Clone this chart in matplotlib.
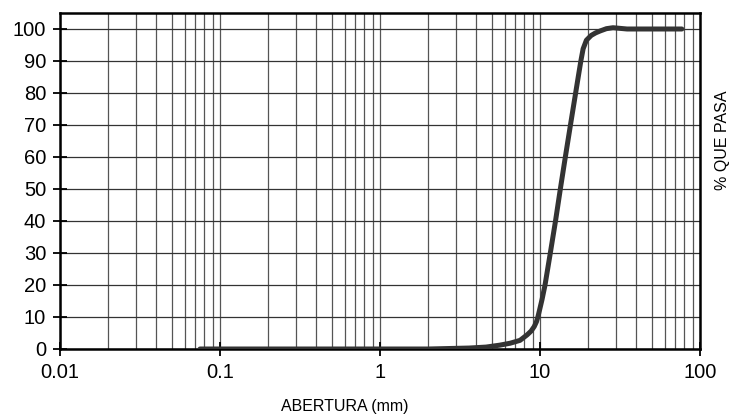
import numpy as np
import matplotlib
matplotlib.use("Agg")
import matplotlib.pyplot as plt
from matplotlib.ticker import LogLocator, NullFormatter, FixedLocator

# ===== Data =====
ABERTURA_MM = [0.075, 0.3, 1.0, 2.0, 3.6, 4.6, 5.6, 6.5, 7.5, 8.3, 8.8, 9.2,
               9.5, 9.7, 9.95, 10.3, 10.75, 11.6, 12.5, 13.4, 14.4, 15.5,
               16.7, 17.4, 18.0, 18.6, 19.5, 20.9, 22.3, 23.8, 26.0, 28.6,
               35.0, 50.0, 77.0]
PCT_PASA = [0, 0, 0, 0, 0.3, 0.6, 1.2, 1.8, 2.7, 4.4, 5.6, 7.0,
            8.5, 10.0, 12.3, 15.5, 20.0, 30.0, 40.0, 50.0, 60.0, 70.0,
            80.0, 85.5, 90.0, 93.8, 96.5, 98.0, 98.8, 99.4, 100.1, 100.4,
            100.0, 100.0, 100.0]
X_TICKS = [0.01, 0.1, 1, 10, 100]
X_TICK_LABELS = ["0.01", "0.1", "1", "10", "100"]
Y_TICKS = list(range(0, 101, 10))
# =========================================

plt.rcParams["font.family"] = ["Liberation Sans", "DejaVu Sans"]

fig = plt.figure(figsize=(7.32, 4.17), dpi=100)
ax = fig.add_axes([60 / 732, 1 - 349 / 417, 640 / 732, 336 / 417])

ax.plot(ABERTURA_MM, PCT_PASA, color="#333333", lw=3.6,
        solid_capstyle="round", solid_joinstyle="round", zorder=3)

ax.set_xscale("log")
ax.set_xlim(0.01, 100)
ax.set_ylim(0, 105)

ax.xaxis.set_major_locator(FixedLocator(X_TICKS))
ax.set_xticklabels(X_TICK_LABELS)
ax.xaxis.set_minor_locator(LogLocator(base=10, subs=np.arange(2, 10)))
ax.xaxis.set_minor_formatter(NullFormatter())
ax.set_yticks(Y_TICKS)

ax.grid(True, which="both", axis="x", color="#555555", lw=0.9)
ax.grid(True, which="major", axis="y", color="#333333", lw=0.9)
ax.set_axisbelow(True)

ax.tick_params(axis="both", which="major", direction="inout", length=10,
               width=1.3, labelsize=14.5, colors="black", pad=5)
ax.tick_params(axis="x", which="minor", length=0)

for s in ax.spines.values():
    s.set_linewidth(1.8)
    s.set_color("black")

fig.text(345 / 732, 1 - 407 / 417, "ABERTURA (mm)", ha="center", va="center",
         fontsize=11.5)
fig.text(722 / 732, 1 - 140 / 417, "% QUE PASA", ha="center", va="center",
         rotation=90, fontsize=11.5)

fig.savefig("out.png", dpi=100)
